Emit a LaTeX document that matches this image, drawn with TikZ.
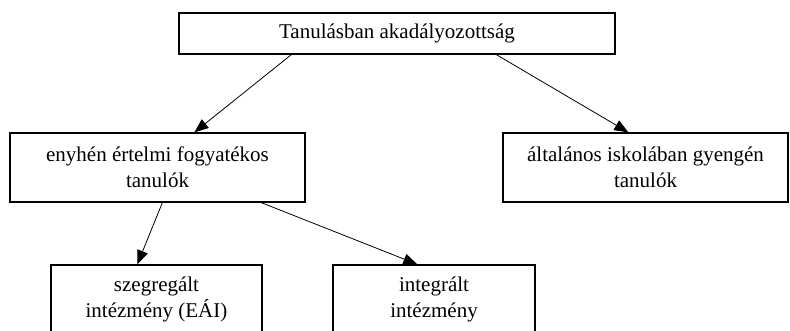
\documentclass[tikz,border=0pt]{standalone}
\usepackage{fontspec}
\setmainfont{Liberation Serif}
\usetikzlibrary{arrows.meta}

\begin{document}
\begin{tikzpicture}[x=1pt,y=-1pt,
    box/.style={draw,line width=1.3pt,inner sep=0pt,align=center,
      font=\fontsize{21}{26}\selectfont},
    arr/.style={-{Triangle[length=14pt,width=11pt]},line width=0.8pt}]
  \useasboundingbox (0,0) rectangle (790,331);
  \node[box,minimum width=436pt,minimum height=41pt] (top) at (397,33.5) {Tanulásban akadályozottság};
  \node[box,minimum width=295pt,minimum height=69pt] (enyhe) at (157.5,167.5) {enyhén értelmi fogyatékos\\tanulók};
  \node[box,minimum width=285pt,minimum height=69pt] (gyenge) at (645.5,167.5) {általános iskolában gyengén\\tanulók};
  \node[box,minimum width=211pt,minimum height=69pt] (szegr) at (156.5,299.5) {szegregált\\intézmény (EÁI)};
  \node[box,minimum width=202pt,minimum height=69pt] (integr) at (434,299.5) {integrált\\intézmény};
  % nyilak
  \draw[arr] ([xshift=113pt]top.south west) -- ([xshift=185pt]enyhe.north west);
  \draw[arr] ([xshift=318pt]top.south west) -- ([xshift=126pt]gyenge.north west);
  \draw[arr] ([xshift=153pt]enyhe.south west) -- ([xshift=87pt]szegr.north west);
  \draw[arr] ([xshift=252pt]enyhe.south west) -- ([xshift=85pt]integr.north west);
\end{tikzpicture}
\end{document}
